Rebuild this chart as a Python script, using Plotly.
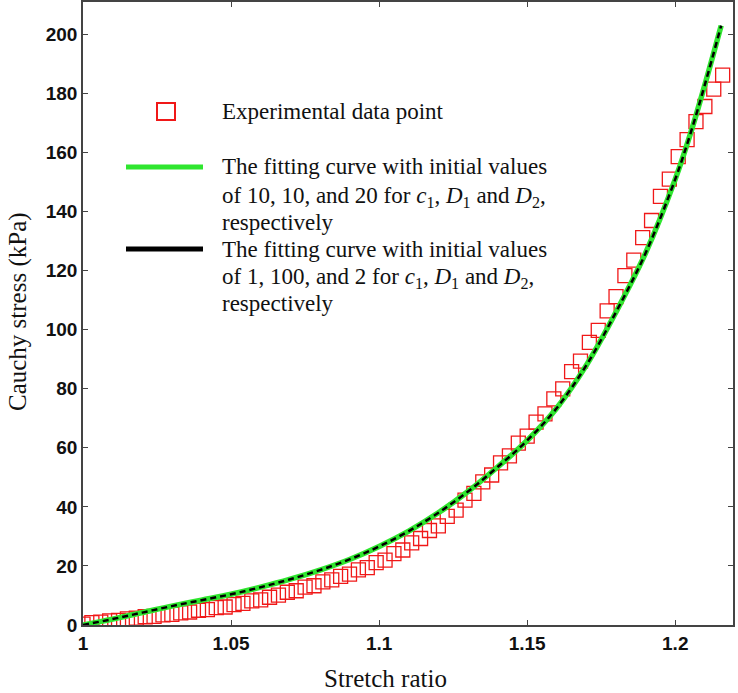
import plotly.graph_objects as go

# Experimental data (stretch ratio, Cauchy stress kPa)
exp_stretch = [1.000, 1.003, 1.006, 1.009, 1.012, 1.015, 1.018, 1.021, 1.024, 1.027,
               1.030, 1.033, 1.036, 1.039, 1.042, 1.045, 1.048, 1.051, 1.054, 1.057,
               1.060, 1.063, 1.066, 1.069, 1.072, 1.075, 1.078, 1.081, 1.084, 1.087,
               1.090, 1.093, 1.096, 1.099, 1.102, 1.105, 1.108, 1.111, 1.114, 1.117,
               1.120, 1.123, 1.126, 1.129, 1.132, 1.135, 1.138, 1.141, 1.144, 1.147,
               1.150, 1.153, 1.156, 1.159, 1.162, 1.165, 1.168, 1.171, 1.174, 1.177,
               1.180, 1.183, 1.186, 1.189, 1.192, 1.195, 1.198, 1.201, 1.204, 1.207,
               1.210, 1.213, 1.216]
exp_stress = [0.3, 0.8, 1.0, 1.4, 1.6, 2.1, 2.3, 2.8, 2.9, 3.4,
              3.6, 4.1, 4.4, 5.0, 5.2, 5.9, 6.1, 6.9, 7.3, 8.2,
              8.5, 9.4, 10.1, 11.1, 11.6, 12.8, 13.3, 14.6, 15.3, 16.5,
              17.2, 18.7, 19.4, 21.1, 22.0, 24.2, 25.4, 27.8, 29.3, 32.0,
              33.6, 36.8, 38.9, 42.3, 44.6, 48.5, 50.8, 54.9, 57.3, 61.6,
              64.0, 68.7, 71.5, 76.6, 80.0, 85.8, 89.4, 95.7, 99.8, 106.4,
              111.2, 118.3, 123.6, 131.2, 137.0, 145.2, 151.0, 158.6, 164.4, 170.5,
              175.6, 181.5, 186.2]

# Fitted curve
fit_stretch = [1.000, 1.010, 1.020, 1.030, 1.040, 1.050, 1.060, 1.070, 1.080, 1.090,
               1.100, 1.110, 1.120, 1.130, 1.140, 1.150, 1.160, 1.170, 1.180, 1.190,
               1.200, 1.205, 1.210, 1.2155]
fit_stress = [0.0, 2.0, 4.2, 6.4, 8.4, 10.4, 12.8, 15.5, 18.6, 22.2,
              26.6, 31.8, 38.0, 45.2, 53.5, 62.5, 73.5, 88.0, 106.0, 126.0,
              151.0, 166.0, 183.0, 203.0]

x_tickvals = [1.0, 1.05, 1.1, 1.15, 1.2]
x_ticktext = ["1", "1.05", "1.1", "1.15", "1.2"]
y_tickvals = [0, 20, 40, 60, 80, 100, 120, 140, 160, 180, 200]

x_title = "Stretch ratio"
y_title = "Cauchy stress (kPa)"
legend_exp = "Experimental data point"
legend_green = ["The fitting curve with initial values",
                "of 10, 10, and 20 for <i>c</i><sub>1</sub>, <i>D</i><sub>1</sub> and <i>D</i><sub>2</sub>,",
                "respectively"]
legend_black = ["The fitting curve with initial values",
                "of 1, 100, and 2 for <i>c</i><sub>1</sub>, <i>D</i><sub>1</sub> and <i>D</i><sub>2</sub>,",
                "respectively"]

RED = "#f01818"
GREEN = "#2fe62f"

fig = go.Figure()
fig.add_trace(go.Scatter(x=exp_stretch, y=exp_stress, mode="markers",
                         marker=dict(symbol="square-open", size=14,
                                     color=RED, line=dict(width=1.3, color=RED)),
                         showlegend=False))
fig.add_trace(go.Scatter(x=fit_stretch, y=fit_stress, mode="lines",
                         line=dict(color=GREEN, width=5.5, shape="spline"),
                         showlegend=False))
fig.add_trace(go.Scatter(x=fit_stretch, y=fit_stress, mode="lines",
                         line=dict(color="black", width=2.5, dash="6px,4px", shape="spline"),
                         showlegend=False))

W, H = 738, 693
L, R, T, B = 83, 5, 2, 68
pw, ph = W - L - R, H - T - B

def px(x):
    return (x - L) / pw

def py(y):
    return (H - B - y) / ph

serif = "Liberation Serif, Times New Roman, serif"

# legend symbols
fig.add_shape(type="rect", xref="paper", yref="paper",
              x0=px(157), x1=px(175), y0=py(120), y1=py(103),
              line=dict(color=RED, width=2))
fig.add_shape(type="line", xref="paper", yref="paper",
              x0=px(126), x1=px(203), y0=py(167), y1=py(167),
              line=dict(color=GREEN, width=5))
fig.add_shape(type="line", xref="paper", yref="paper",
              x0=px(126), x1=px(203), y0=py(249), y1=py(249),
              line=dict(color="black", width=5))

def add_text(txt, x, y, size=23, angle=0, xanchor="left"):
    fig.add_annotation(text=txt, xref="paper", yref="paper", x=px(x), y=py(y),
                       xanchor=xanchor, yanchor="middle", showarrow=False, textangle=angle,
                       font=dict(family=serif, size=size, color="#111"))

add_text(legend_exp, 220, 111)
for t, yy in zip(legend_green, [166, 197, 222]):
    add_text(t, 220, yy)
for t, yy in zip(legend_black, [249, 278, 303]):
    add_text(t, 220, yy)

# axis titles
add_text(x_title, 385, 678, size=25, xanchor="center")
add_text(y_title, 18, 312, size=25, angle=-90, xanchor="center")

axis_common = dict(showline=True, linecolor="#444", linewidth=1.5, mirror="ticks",
                   ticks="inside", ticklen=5, tickcolor="#444", showgrid=False,
                   zeroline=False, automargin=False,
                   tickfont=dict(family="Liberation Sans, Arial, sans-serif", size=19,
                                 color="#111", weight="bold"))

fig.update_layout(
    width=W, height=H,
    margin=dict(l=L, r=R, t=T, b=B),
    paper_bgcolor="white", plot_bgcolor="white",
    xaxis=dict(range=[1.0, 1.2195], tickvals=x_tickvals, ticktext=x_ticktext,
               **axis_common),
    yaxis=dict(range=[0, 211], tickvals=y_tickvals, **axis_common),
)

fig.write_html("out.html", config={"displayModeBar": False},
               post_script="document.body.style.margin='0';document.body.style.overflow='hidden';")
